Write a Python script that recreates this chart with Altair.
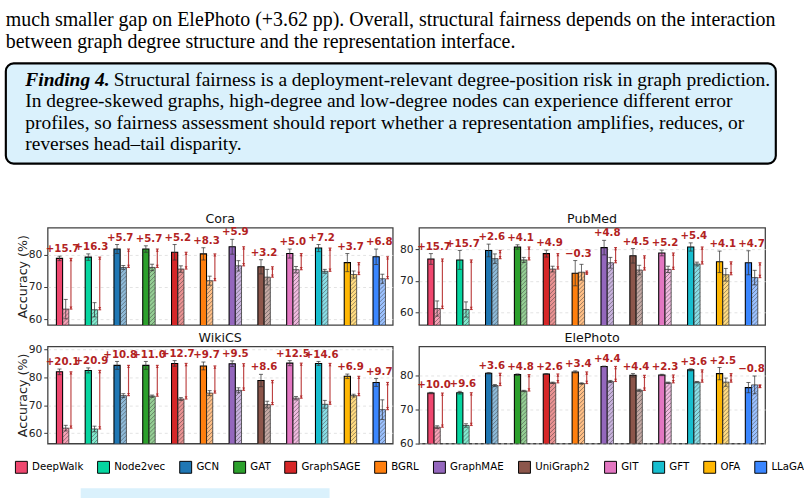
import altair as alt
import pandas as pd

methods = ["DeepWalk", "Node2vec", "GCN", "GAT", "GraphSAGE", "BGRL", "GraphMAE",
           "UniGraph2", "GIT", "GFT", "OFA", "LLaGA"]
colors = ["#EF476F", "#06D6A0", "#1F77B4", "#2CA02C", "#D62728", "#FF7F0E", "#9467BD",
          "#8C564B", "#E377C2", "#17BECF", "#FFB703", "#3A86FF"]

# ---- Cora ----
cora_head = [78.8, 79.2, 81.7, 81.7, 80.7, 80.2, 82.4, 76.2, 80.3, 82.0, 77.5, 79.3]
cora_tail = [63.1, 62.9, 76.0, 76.0, 75.5, 71.9, 76.5, 73.0, 75.3, 74.8, 73.8, 72.5]
cora_head_err = [0.7, 1.0, 1.4, 1.0, 2.4, 1.9, 2.3, 2.2, 1.4, 1.1, 2.8, 2.4]
cora_tail_err = [3.0, 2.2, 0.6, 1.0, 1.0, 1.4, 1.6, 2.4, 1.0, 0.6, 1.1, 1.4]
cora_gap = [15.7, 16.3, 5.7, 5.7, 5.2, 8.3, 5.9, 3.2, 5.0, 7.2, 3.7, 6.8]

# ---- PubMed ----
pub_head = [76.9, 76.6, 79.6, 80.7, 78.6, 72.4, 80.5, 77.9, 78.8, 80.7, 76.0, 75.7]
pub_tail = [61.2, 60.9, 77.0, 76.6, 73.7, 72.7, 75.7, 73.4, 73.6, 75.3, 71.9, 71.0]
pub_head_err = [1.7, 3.0, 2.0, 0.7, 1.1, 4.0, 2.3, 2.3, 0.9, 1.3, 3.4, 3.8]
pub_tail_err = [2.4, 2.4, 1.5, 0.8, 0.9, 2.5, 1.7, 1.5, 1.0, 0.6, 2.0, 2.3]
pub_gap = [15.7, 15.7, 2.6, 4.1, 4.9, -0.3, 4.8, 4.5, 5.2, 5.4, 4.1, 4.7]

# ---- WikiCS ----
wiki_head = [81.9, 82.4, 84.2, 84.2, 84.9, 84.0, 84.8, 78.8, 85.0, 84.9, 80.3, 78.1]
wiki_tail = [61.8, 61.5, 73.4, 73.2, 72.2, 74.3, 75.3, 70.2, 72.5, 70.3, 73.4, 68.4]
wiki_head_err = [1.0, 0.9, 1.4, 1.4, 1.0, 1.4, 1.0, 2.2, 0.9, 0.7, 0.8, 1.4]
wiki_tail_err = [1.0, 1.0, 0.7, 0.4, 0.5, 0.9, 0.9, 1.2, 0.6, 1.4, 0.5, 3.5]
wiki_gap = [20.1, 20.9, 10.8, 11.0, 12.7, 9.7, 9.5, 8.6, 12.5, 14.6, 6.9, 9.7]

# ---- ElePhoto ----
ele_head = [74.8, 74.9, 80.6, 80.2, 80.4, 81.0, 82.6, 80.0, 80.1, 81.6, 80.5, 76.4]
ele_tail = [64.8, 65.3, 77.0, 75.4, 77.8, 77.6, 78.2, 75.6, 77.8, 78.0, 78.0, 77.2]
ele_head_err = [0.2, 0.4, 0.2, 0.2, 0.1, 0.3, 0.1, 0.5, 0.2, 0.3, 1.8, 1.5]
ele_tail_err = [0.4, 0.5, 0.3, 0.2, 0.2, 0.2, 0.3, 0.3, 0.2, 0.2, 1.2, 2.6]
ele_gap = [10.0, 9.6, 3.6, 4.8, 2.6, 3.4, 4.4, 4.4, 2.3, 3.6, 2.5, -0.8]

yticks_std = [60, 70, 80]
yticks_wiki = [60, 70, 80, 90]

top_lines = [
    "much smaller gap on ElePhoto (+3.62 pp). Overall, structural fairness depends on the interaction",
    "between graph degree structure and the representation interface.",
]
finding_head = "Finding 4."
finding_lines = [
    "Structural fairness is a deployment-relevant degree-position risk in graph prediction.",
    "In degree-skewed graphs, high-degree and low-degree nodes can experience different error",
    "profiles, so fairness assessment should report whether a representation amplifies, reduces, or",
    "reverses head\u2013tail disparity.",
]

RED = "#B22222"
FONT = "DejaVu Sans"
SERIF = "Liberation Serif"
BW = 0.216
XDOM = [-0.52, 11.47]
PH = 100
ROW0 = 226  # absolute top of first panel row (grid origin)

cscale = alt.Scale(domain=methods, range=colors)
legend = alt.Legend(orient="none", legendX=14, legendY=465 - ROW0, direction="horizontal",
                    columns=12, symbolType="square", symbolSize=150,
                    symbolStrokeColor="black", symbolStrokeWidth=1, symbolOpacity=1,
                    labelFontSize=10.5, labelFont=FONT, labelColor="black",
                    labelOffset=4, columnPadding=11.5, title=None)


def panel(name, head, tail, eh, et, gap, dom, ticks, ytitle, w):
    ppx = w / (XDOM[1] - XDOM[0])
    ppy = PH / (dom[1] - dom[0])
    rise = BW * ppx / ppy          # data rise of a 45-degree hatch line across a bar
    step = 4.2 / ppy               # hatch spacing (vertical)
    rows, errs, caps, br, hat = [], [], [], [], []
    for i, m in enumerate(methods):
        hc, tc, bx = i - BW / 2, i + BW / 2, i + 0.29
        g = gap[i]
        lab = ("+%.1f" % g) if g >= 0 else ("\u2212%.1f" % abs(g))
        rows.append(dict(method=m, i=i, head=head[i], tail=tail[i], y0=dom[0] - 2,
                         hx0=i - BW, hx1=i, tx0=i, tx1=i + BW,
                         ly=max(head[i] + eh[i], tail[i] + et[i]), label=lab,
                         bx=bx, btop=max(head[i], tail[i]), bbot=min(head[i], tail[i])))
        for c, v, e in ((hc, head[i], eh[i]), (tc, tail[i], et[i])):
            errs.append(dict(c=c, lo=v - e, hi=v + e))
            caps.append(dict(c0=c - 0.07, c1=c + 0.07, v=v - e))
            caps.append(dict(c0=c - 0.07, c1=c + 0.07, v=v + e))
        br.append(dict(c0=bx - 0.05, c1=bx + 0.05, v=max(head[i], tail[i])))
        br.append(dict(c0=bx - 0.05, c1=bx + 0.05, v=min(head[i], tail[i])))
        # hatch lines for the tail bar, clipped to its top
        yb = dom[0] - rise
        while yb < tail[i]:
            ye = yb + rise
            xe = i + BW
            if ye > tail[i]:
                xe = i + BW * (tail[i] - yb) / rise
                ye = tail[i]
            hat.append(dict(xa=i, ya=yb, xb=xe, yb2=ye))
            yb += step
    df = pd.DataFrame(rows)
    edf = pd.DataFrame(errs)
    cdf = pd.DataFrame(caps)
    bdf = pd.DataFrame(br)
    hdf = pd.DataFrame(hat)

    xs = alt.Scale(domain=XDOM, nice=False, zero=False)
    ys = alt.Scale(domain=dom, nice=False, zero=False)
    yaxis = alt.Axis(values=ticks, grid=True, gridDash=[3, 3], gridColor="#e2e2e2",
                     domain=False, tickSize=4, tickColor="#333333", labelFontSize=11,
                     labelColor="#222222", labelFont=FONT, labelPadding=2,
                     title="Accuracy (%)" if ytitle else None, titleFontSize=13,
                     titleFontWeight="normal", titleFont=FONT, titleColor="#222222",
                     titleX=-26, titleY=PH / 2, titleAngle=270, titleAlign="center",
                     titleBaseline="middle")

    def X(f):
        return alt.X(f + ":Q", scale=xs, axis=None)

    def Y(f):
        return alt.Y(f + ":Q", scale=ys, axis=yaxis)

    col = alt.Color("method:N", scale=cscale, legend=legend)
    base = alt.Chart(df)
    hbar = base.mark_bar(stroke="black", strokeWidth=1.1, clip=True).encode(
        x=X("hx0"), x2="hx1", y=Y("head"), y2="y0", color=col)
    tbar = base.mark_bar(stroke="#333333", strokeWidth=0.8, fillOpacity=0.5, clip=True).encode(
        x=X("tx0"), x2="tx1", y=Y("tail"), y2="y0", color=col)
    hatch = alt.Chart(hdf).mark_rule(color="#333333", strokeWidth=0.6, opacity=0.8,
                                     clip=True).encode(
        x=X("xa"), y=Y("ya"), x2="xb", y2="yb2")
    erule = alt.Chart(edf).mark_rule(color="#333333", strokeWidth=1, opacity=0.75).encode(
        x=X("c"), y=Y("lo"), y2="hi")
    ecap = alt.Chart(cdf).mark_rule(color="#333333", strokeWidth=1, opacity=0.75).encode(
        x=X("c0"), x2="c1", y=Y("v"))
    brule = base.mark_rule(color=RED, strokeWidth=1.2, opacity=0.85).encode(
        x=X("bx"), y=Y("bbot"), y2="btop")
    bcap = alt.Chart(bdf).mark_rule(color=RED, strokeWidth=1.2, opacity=0.85).encode(
        x=X("c0"), x2="c1", y=Y("v"))
    aup = base.mark_point(shape="triangle-up", filled=True, size=9, color=RED,
                          opacity=0.9, yOffset=1.5).encode(x=X("bx"), y=Y("btop"))
    adn = base.mark_point(shape="triangle-down", filled=True, size=9, color=RED,
                          opacity=0.9, yOffset=-1.5).encode(x=X("bx"), y=Y("bbot"))
    lab = base.mark_text(color=RED, fontWeight="bold", fontSize=10.5, font=FONT,
                         baseline="bottom", dy=-2).encode(
        x=X("i"), y=Y("ly"), text="label:N")
    ttl = alt.Chart(alt.Data(values=[{"t": name}])).mark_text(
        fontSize=13, font=FONT, color="#111111", baseline="alphabetic", align="center").encode(
        x=alt.value(w / 2), y=alt.value(-4.5), text="t:N")
    return alt.layer(hbar, tbar, hatch, erule, ecap, brule, bcap, aup, adn, lab, ttl).properties(
        width=w, height=PH,
        view=alt.ViewBackground(stroke="#404040", strokeWidth=1.3))


one = alt.Data(values=[{"a": 1}])


def at(y):
    return alt.value(y - ROW0)


# Cell carrying the page text (header box and footer strip), drawn in absolute page pixels
hdr = []
hdr.append(alt.Chart(one).mark_rect(fill="white", strokeWidth=0)
           .encode(x=alt.value(0), x2=alt.value(804), y=at(0), y2=at(500)))
for k, t in enumerate(top_lines):
    hdr.append(alt.Chart(one).mark_text(text=t, font=SERIF, fontSize=20.5, align="left",
                                        baseline="alphabetic", color="black")
               .encode(x=alt.value(5), y=at(19 + 22 * k)))
hdr.append(alt.Chart(one).mark_rect(fill="#DAF1FC", stroke="black", strokeWidth=2.2,
                                    cornerRadius=8)
           .encode(x=alt.value(5), x2=alt.value(797), y=at(57), y2=at(160)))
hdr.append(alt.Chart(one).mark_text(text=finding_head, font=SERIF, fontSize=20,
                                    fontWeight="bold", fontStyle="italic", align="left",
                                    baseline="alphabetic", color="black")
           .encode(x=alt.value(25), y=at(80)))
for k, t in enumerate(finding_lines):
    hdr.append(alt.Chart(one).mark_text(text=t, font=SERIF, fontSize=20, align="left",
                                        baseline="alphabetic", color="black")
               .encode(x=alt.value(116 if k == 0 else 25), y=at(80 + 22 * k)))
hdr.append(alt.Chart(one).mark_rect(fill="#DAF1FC", strokeWidth=0)
           .encode(x=alt.value(82), x2=alt.value(338), y=at(494), y2=at(504)))
page = alt.layer(*hdr).properties(width=21, height=PH,
                                  view=alt.ViewBackground(stroke="transparent"))

spacer = alt.Chart(one).mark_point(opacity=0).properties(
    width=21, height=PH, view=alt.ViewBackground(stroke="transparent"))

cora = panel("Cora", cora_head, cora_tail, cora_head_err, cora_tail_err, cora_gap,
             [58.2, 88.3], yticks_std, True, 355)
pub = panel("PubMed", pub_head, pub_tail, pub_head_err, pub_tail_err, pub_gap,
            [56.0, 86.8], yticks_std, False, 356)
wiki = panel("WikiCS", wiki_head, wiki_tail, wiki_head_err, wiki_tail_err, wiki_gap,
             [56.3, 91.0], yticks_wiki, True, 355)
ele = panel("ElePhoto", ele_head, ele_tail, ele_head_err, ele_tail_err, ele_gap,
            [60.0, 88.5], yticks_std, False, 356)

chart = alt.concat(page, cora, pub, spacer, wiki, ele, columns=3,
                   spacing={"row": 22, "column": 27}, bounds="flush").properties(
    padding=0, background="white").configure(font=FONT)

chart.save("out.html", embed_options={"renderer": "svg", "actions": False})
